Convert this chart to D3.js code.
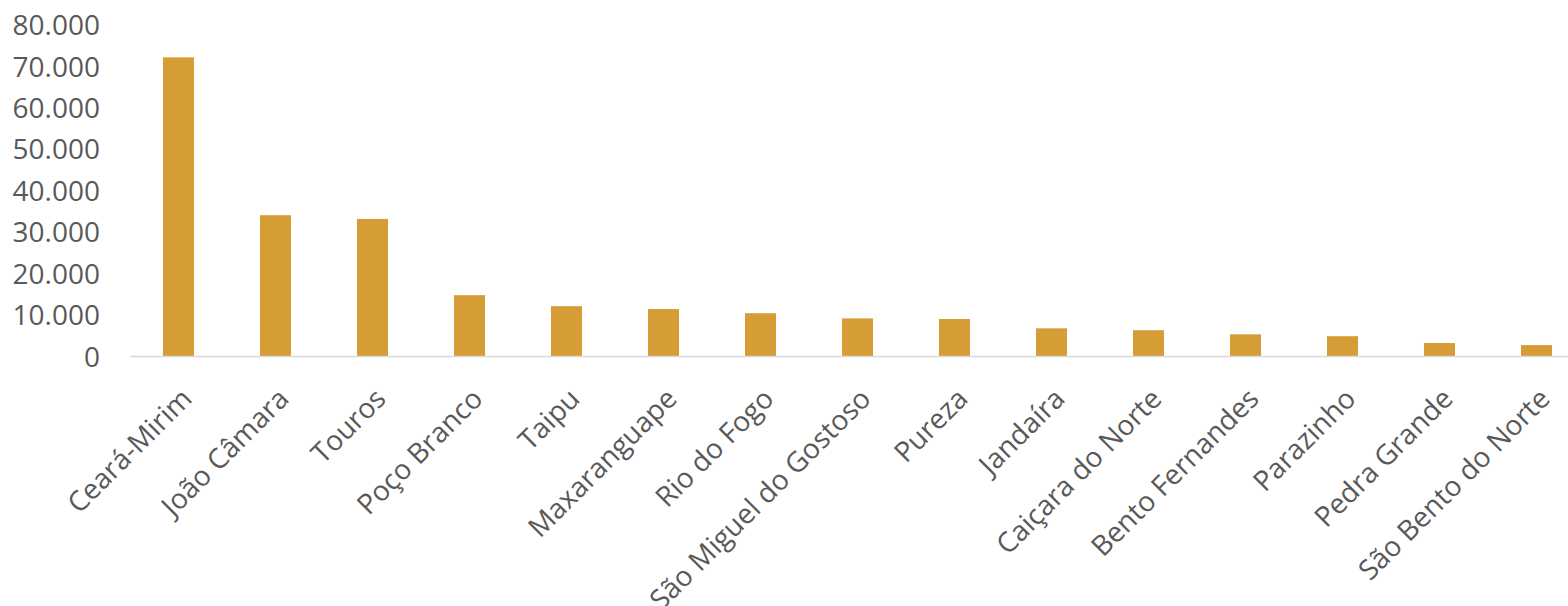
<!DOCTYPE html>
<html>
<head>
<meta charset="utf-8">
<script src="https://cdn.jsdelivr.net/npm/d3@7"></script>
<style>
  html, body { margin: 0; padding: 0; background: #fff; }
  svg { display: block; font-family: "Open Sans", Lato, sans-serif; }
  .tick-y { fill: #595959; font-size: 28px; }
  .tick-x { fill: #595959; font-size: 28px; }
</style>
</head>
<body>
<svg id="chart" width="1568" height="606"></svg>
<script>
// categories and values
const municipios = [
  'Ceará-Mirim', 'João Câmara', 'Touros', 'Poço Branco', 'Taipu',
  'Maxaranguape', 'Rio do Fogo', 'São Miguel do Gostoso', 'Pureza', 'Jandaíra',
  'Caiçara do Norte', 'Bento Fernandes', 'Parazinho', 'Pedra Grande', 'São Bento do Norte'
];
const valores = [
  72200, 34100, 33200, 14800, 12150,
  11450, 10450, 9200, 9050, 6800,
  6350, 5350, 4900, 3250, 2750
];
const yTicks = [0, 10000, 20000, 30000, 40000, 50000, 60000, 70000, 80000];

const W = 1568, H = 606;
const svg = d3.select('#chart');

const x = d3.scaleBand()
  .domain(municipios)
  .range([130, 1585])
  .paddingInner(0.68)
  .paddingOuter(0.34);

const y = d3.scaleLinear()
  .domain([0, 80000])
  .range([356.5, 25]);

const fmt = v => d3.format(',')(v).replace(/,/g, '.');

// y labels (no gridlines in the reference)
svg.append('g')
  .selectAll('text')
  .data(yTicks)
  .join('text')
  .attr('class', 'tick-y')
  .attr('x', 100)
  .attr('y', d => y(d))
  .attr('dy', '0.36em')
  .attr('text-anchor', 'end')
  .text(fmt);

// bars
svg.append('g')
  .selectAll('rect')
  .data(valores)
  .join('rect')
  .attr('x', (d, i) => x(municipios[i]))
  .attr('y', d => y(d))
  .attr('width', x.bandwidth())
  .attr('height', d => y(0) - y(d))
  .attr('fill', '#d69d37');

// baseline
svg.append('line')
  .attr('x1', 130).attr('x2', W)
  .attr('y1', y(0)).attr('y2', y(0))
  .attr('stroke', '#d9d9d9')
  .attr('stroke-width', 1.5);

// category labels, rotated -45 (the long one runs off the bottom edge, as in the reference)
svg.append('g')
  .selectAll('text')
  .data(municipios)
  .join('text')
  .attr('class', 'tick-x')
  .attr('text-anchor', 'end')
  .attr('transform', d => {
    const cx = x(d) + x.bandwidth() / 2 + 15;
    return `translate(${cx},${y(0) + 44}) rotate(-45)`;
  })
  .text(d => d);
</script>
</body>
</html>
